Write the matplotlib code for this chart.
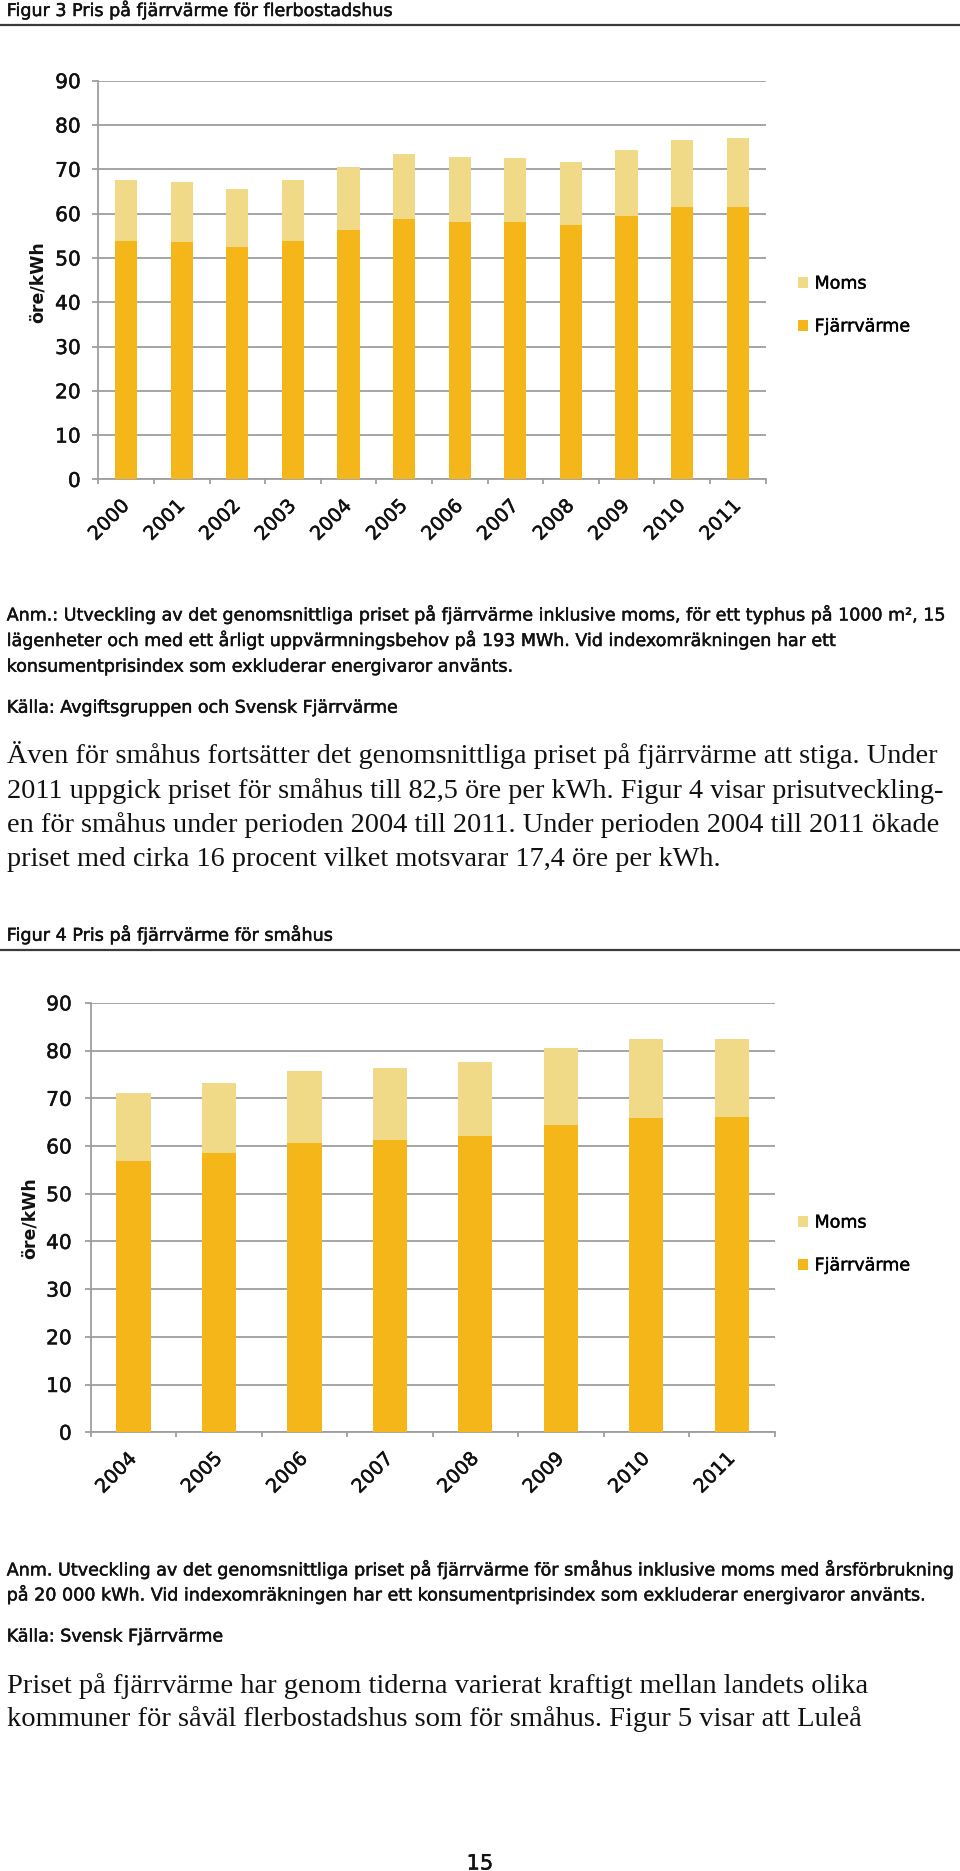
import matplotlib
matplotlib.use('Agg')
import matplotlib.pyplot as plt
from matplotlib.lines import Line2D
import matplotlib.patheffects as pe
import numpy as np

# ---------------- data ----------------
years_flerbostad = ['2000', '2001', '2002', '2003', '2004', '2005',
                    '2006', '2007', '2008', '2009', '2010', '2011']
fjarrvarme_flerbostad = [53.9, 53.5, 52.5, 53.9, 56.4, 58.8, 58.1, 58.1, 57.4, 59.5, 61.4, 61.6]
moms_flerbostad = [13.7, 13.6, 13.1, 13.6, 14.1, 14.6, 14.6, 14.5, 14.3, 14.9, 15.3, 15.5]

years_smahus = ['2004', '2005', '2006', '2007', '2008', '2009', '2010', '2011']
fjarrvarme_smahus = [56.8, 58.5, 60.6, 61.2, 62.1, 64.3, 65.9, 66.0]
moms_smahus = [14.3, 14.7, 15.2, 15.2, 15.5, 16.2, 16.5, 16.5]

yticks = [0, 10, 20, 30, 40, 50, 60, 70, 80, 90]
series_labels = ['Moms', 'Fjärrvärme']
ylabel = 'öre/kWh'

title1 = 'Figur 3 Pris på fjärrvärme för flerbostadshus'
anm1 = ['Anm.: Utveckling av det genomsnittliga priset på fjärrvärme inklusive moms, för ett typhus på 1000 m², 15',
        'lägenheter och med ett årligt uppvärmningsbehov på 193 MWh. Vid indexomräkningen har ett',
        'konsumentprisindex som exkluderar energivaror använts.']
kalla1 = 'Källa: Avgiftsgruppen och Svensk Fjärrvärme'
body1 = ['Även för småhus fortsätter det genomsnittliga priset på fjärrvärme att stiga. Under',
         '2011 uppgick priset för småhus till 82,5 öre per kWh. Figur 4 visar prisutveckling-',
         'en för småhus under perioden 2004 till 2011. Under perioden 2004 till 2011 ökade',
         'priset med cirka 16 procent vilket motsvarar 17,4 öre per kWh.']
title2 = 'Figur 4 Pris på fjärrvärme för småhus'
anm2 = ['Anm. Utveckling av det genomsnittliga priset på fjärrvärme för småhus inklusive moms med årsförbrukning',
        'på 20 000 kWh. Vid indexomräkningen har ett konsumentprisindex som exkluderar energivaror använts.']
kalla2 = 'Källa: Svensk Fjärrvärme'
body2 = ['Priset på fjärrvärme har genom tiderna varierat kraftigt mellan landets olika',
         'kommuner för såväl flerbostadshus som för småhus. Figur 5 visar att Luleå']
page_number = '15'

# ---------------- style ----------------
SANS = 'DejaVu Sans'
SERIF = 'Liberation Serif'
FJV = '#F5B61A'
MOMS = '#F0D987'
GRID = '#9E9E9E'
TXT = '#111111'
RULE = '#3A3A3A'
HEAVY = [pe.withStroke(linewidth=0.35, foreground=TXT)]

W, H = 960, 1871
fig = plt.figure(figsize=(W / 100, H / 100), dpi=100)
fig.patch.set_facecolor('white')
renderer = fig.canvas.get_renderer()


def fx(x):
    return x / W


def fy(y):
    return 1 - y / H


def natural_width(s, family, size=10, weight='normal'):
    t = fig.text(0, 0, s, fontsize=size, family=family, weight=weight)
    w = t.get_window_extent(renderer).width
    t.remove()
    return w


def paragraph(lines, x0, baselines, ends, family, weight='normal', ha='left', heavy=True):
    targets = [e - x0 for e in ends]
    nat = [natural_width(s, family, 10, weight) for s in lines]
    size = 10 * sum(targets) / sum(nat)
    for s, yb in zip(lines, baselines):
        xx = x0 if ha == 'left' else (x0 + ends[0]) / 2
        t = fig.text(fx(xx), fy(yb), s, fontsize=size, family=family, weight=weight,
                     color=TXT, ha=ha, va='baseline')
        if heavy:
            t.set_path_effects(HEAVY)
    return size


def rule(y):
    fig.add_artist(Line2D([0, 1], [fy(y), fy(y)], transform=fig.transFigure,
                          color=RULE, lw=1.6))


def bar_chart(rect, cats, fjv, moms, ylabel_xy, legend_xy, ypad):
    l, t, r, b = rect
    ax = fig.add_axes([fx(l), fy(b), (r - l) / W, (b - t) / H])
    x = np.arange(len(cats))
    h_fjv = ax.bar(x, fjv, width=0.4, color=FJV, zorder=3)
    h_moms = ax.bar(x, moms, width=0.4, bottom=fjv, color=MOMS, zorder=3)
    ax.set_xlim(-0.5, len(cats) - 0.5)
    ax.set_ylim(0, 90)
    ax.set_yticks(yticks)
    ax.set_yticklabels([str(v) for v in yticks], fontsize=14.5, family=SANS, color=TXT)
    ax.yaxis.grid(True, color=GRID, lw=1.3, zorder=0)
    ax.set_axisbelow(True)
    for s in ['top', 'right']:
        ax.spines[s].set_visible(False)
    for s in ['left', 'bottom']:
        ax.spines[s].set_color(GRID)
        ax.spines[s].set_linewidth(1.3)
    ax.set_xticks(x)
    ax.set_xticklabels(cats, rotation=45, ha='right', va='center',
                       rotation_mode='anchor', fontsize=13.8, family=SANS, color=TXT)
    ax.tick_params(axis='x', which='major', length=0, pad=17)
    ax.set_xticks(np.arange(len(cats) + 1) - 0.5, minor=True)
    ax.tick_params(axis='x', which='minor', length=3.8, width=1.3, color=GRID)
    ax.tick_params(axis='y', length=4.6, width=1.3, color=GRID, pad=ypad)
    for lab in ax.get_xticklabels() + ax.get_yticklabels():
        lab.set_path_effects(HEAVY)
    ax.set_ylabel(ylabel, fontsize=12.5, family=SANS, weight='bold', color=TXT)
    ax.yaxis.label.set_va('center')
    ax.yaxis.set_label_coords(fx(ylabel_xy[0]), fy(ylabel_xy[1]), transform=fig.transFigure)
    leg = ax.legend([h_moms, h_fjv], series_labels, loc='center left',
                    bbox_to_anchor=(fx(legend_xy[0]), fy(legend_xy[1])),
                    bbox_transform=fig.transFigure, frameon=False,
                    prop={'family': SANS, 'size': 12.6},
                    handlelength=0.58, handleheight=0.58, handletextpad=0.35,
                    labelspacing=1.42, borderpad=0, borderaxespad=0)
    for txt in leg.get_texts():
        txt.set_path_effects(HEAVY)
    return ax


# ---------------- page 1: figure 3 ----------------
paragraph([title1], 6.7, [16], [393.3], SANS)
rule(25)
bar_chart((98.3, 80.7, 765.5, 479.4), years_flerbostad, fjarrvarme_flerbostad,
          moms_flerbostad, (38, 282), (798.3, 305), 8.0)

paragraph(anm1, 6.7, [620.5, 646, 671.7], [948, 836, 511], SANS)
paragraph([kalla1], 6.7, [712.7], [398.3], SANS)
paragraph(body1, 7.0, [763, 797.5, 832, 866.5], [948, 938, 928, 715], SERIF, heavy=False)

# ---------------- figure 4 ----------------
paragraph([title2], 6.7, [940.7], [333.3], SANS)
rule(950)
bar_chart((90.7, 1002.9, 774.6, 1432.2), years_smahus, fjarrvarme_smahus,
          moms_smahus, (30, 1218), (798.3, 1244), 9.0)

paragraph(anm2, 6.7, [1575.5, 1600.5], [952, 928], SANS)
paragraph([kalla2], 6.7, [1641.5], [223.5], SANS)
paragraph(body2, 7.0, [1693, 1726], [872.6, 862], SERIF, heavy=False)

paragraph([page_number], 466.7, [1869.5], [493.3], SANS, ha='center')

fig.savefig('out.png', dpi=100, facecolor='white')
